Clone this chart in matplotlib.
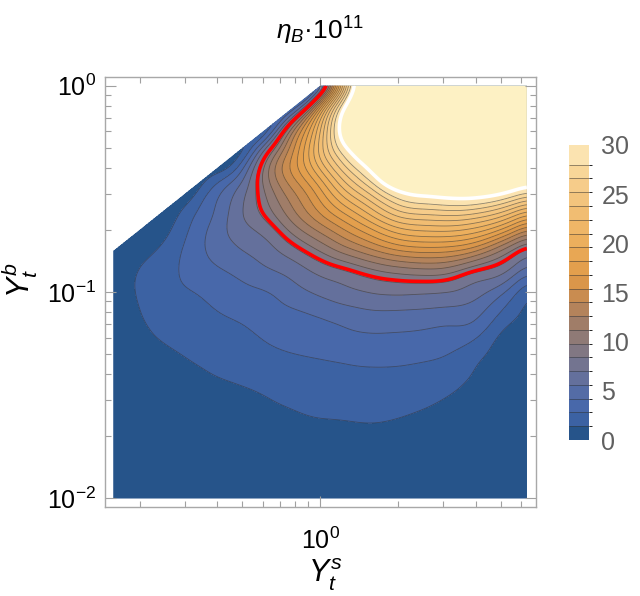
import numpy as np
import matplotlib
matplotlib.use('Agg')
import matplotlib.pyplot as plt
import matplotlib.tri as mtri
from matplotlib.colors import ListedColormap, BoundaryNorm
from matplotlib.colorbar import ColorbarBase
from matplotlib.patches import Polygon
from matplotlib.ticker import FixedLocator, FixedFormatter, NullFormatter

plt.rcParams['font.family'] = ['Liberation Sans', 'DejaVu Sans']
plt.rcParams['mathtext.fontset'] = 'custom'
plt.rcParams['mathtext.rm'] = 'Liberation Sans'
plt.rcParams['mathtext.it'] = 'Liberation Sans:italic'

# grid nodes, log10 of the couplings
log_ys = [-0.8, -0.7, -0.6, -0.5, -0.4, -0.3, -0.2, -0.1, 0.0,
          0.1, 0.2, 0.3, 0.4, 0.5, 0.6, 0.7, 0.8]
log_yb = [0.0, -0.1, -0.2, -0.3, -0.4, -0.5, -0.6, -0.7, -0.8, -0.9, -1.0,
          -1.1, -1.2, -1.3, -1.4, -1.5, -1.6, -1.7, -1.8, -1.9, -2.0]

# eta_B * 1e11, one row per Y_t^b (top to bottom)
# (nodes with Y_t^b > Y_t^s lie outside the allowed region and are set to 0)
eta_b = [
    [0, 0, 0, 0, 0, 0, 0, 0, 0, 24, 36, 36, 36, 36, 36, 36, 35],
    [0, 0, 0, 0, 0, 0, 0, 0, 16.3, 30.5, 36, 36, 36, 36, 36, 36, 35],
    [0, 0, 0, 0, 0, 0, 0, 12, 22, 32.5, 35.5, 36, 36, 36, 36, 36, 35],
    [0, 0, 0, 0, 0, 0, 7.7, 15.4, 23, 30, 34, 36, 36, 36, 36, 36, 35.5],
    [0, 0, 0, 0, 0, 4.0, 11.2, 16.2, 21.2, 26.4, 30.9, 35.7, 36, 36, 36, 36, 33.5],
    [0, 0, 0, 0, 3.5, 6.3, 10.6, 14.3, 18.1, 22.8, 26.6, 30.6, 31.9, 32.5, 32.6, 31.7, 29.2],
    [0, 0, 0, 2.2, 4.4, 7.0, 9.5, 12.7, 15.9, 19.1, 22.3, 25.5, 26.5, 26.9, 26.5, 24.8, 21.4],
    [0, 0, 1.0, 3.0, 4.9, 6.5, 7.8, 10.5, 13.0, 15.5, 18.0, 20.4, 21.2, 21.3, 20.4, 18.0, 13.7],
    [0, 0.9, 1.8, 3.4, 4.7, 5.6, 6.5, 8.0, 9.9, 11.9, 13.7, 15.3, 15.9, 15.7, 14.2, 11.1, 7.6],
    [0.7, 1.45, 2.25, 3.3, 4.0, 4.6, 5.4, 6.2, 7.4, 8.3, 9.4, 10.2, 10.6, 10.2, 8.5, 7.5, 4.5],
    [1.0, 1.5, 2.3, 2.75, 3.35, 3.85, 4.2, 5.1, 5.9, 6.6, 7.1, 7.3, 7.2, 7.0, 6.2, 4.6, 1.5],
    [1.05, 1.35, 2.0, 2.2, 2.75, 3.15, 3.6, 4.0, 4.5, 5.0, 5.4, 5.4, 5.3, 5.1, 4.7, 2.7, 1.0],
    [0.95, 1.15, 1.6, 1.8, 2.2, 2.55, 3.1, 3.3, 3.6, 4.0, 4.2, 4.15, 4.0, 3.8, 3.3, 1.3, 0.95],
    [0.8, 0.95, 1.25, 1.5, 1.75, 2.0, 2.5, 2.8, 2.95, 3.15, 3.3, 3.3, 3.1, 2.8, 1.8, 1.0, 0.88],
    [0.68, 0.8, 1.0, 1.22, 1.43, 1.58, 1.9, 2.3, 2.4, 2.5, 2.55, 2.5, 2.4, 2.0, 1.3, 0.92, 0.8],
    [0.58, 0.68, 0.82, 1.0, 1.15, 1.27, 1.45, 1.75, 1.85, 1.95, 2.0, 1.95, 1.8, 1.4, 1.0, 0.83, 0.7],
    [0.5, 0.57, 0.68, 0.82, 0.92, 1.0, 1.1, 1.3, 1.45, 1.5, 1.55, 1.45, 1.25, 1.0, 0.85, 0.74, 0.62],
    [0.42, 0.48, 0.56, 0.65, 0.72, 0.78, 0.85, 0.98, 1.05, 1.1, 1.15, 1.1, 1.0, 0.82, 0.72, 0.63, 0.54],
    [0.36, 0.4, 0.46, 0.52, 0.56, 0.6, 0.65, 0.74, 0.8, 0.8, 0.82, 0.8, 0.75, 0.64, 0.58, 0.53, 0.47],
    [0.3, 0.34, 0.38, 0.42, 0.45, 0.47, 0.5, 0.56, 0.6, 0.6, 0.6, 0.6, 0.58, 0.52, 0.48, 0.45, 0.41],
    [0.26, 0.3, 0.32, 0.34, 0.36, 0.38, 0.4, 0.44, 0.45, 0.46, 0.47, 0.47, 0.46, 0.42, 0.4, 0.38, 0.36],
]

step = 1.4
bounds = [round(step * k, 1) for k in range(21)] + [30]   # 0 ... 28, 30
eta_obs = 8.7
cbar_ticks = [0, 5, 10, 15, 20, 25, 30]

# band colours, bottom to top (Mathematica-like density gradient)
band_cols = ['#26548a', '#3c62a3', '#4868aa', '#546ca6', '#64709c', '#737490',
             '#817783', '#8f7a76', '#a07d68', '#b4835b', '#c98c50', '#da964a',
             '#e39f4d', '#e8a754', '#ecaf5d', '#efb667', '#f1bd72', '#f3c47d',
             '#f6cc8a', '#f8d698', '#fbe3b0']
top_col = '#fdf1c4'


def blur(a, sigma):
    r = int(3 * sigma)
    k = np.exp(-0.5 * (np.arange(-r, r + 1) / sigma) ** 2)
    k /= k.sum()
    a = np.apply_along_axis(lambda s: np.convolve(s, k, mode='same'), 1, a)
    return np.apply_along_axis(lambda s: np.convolve(s, k, mode='same'), 0, a)


fig = plt.figure(figsize=(6.4, 5.96), dpi=100)
ax = fig.add_axes([104.7 / 640, 1 - 506.7 / 596, 431 / 640, 429.4 / 596])

# regular triangulation of the grid, cells split parallel to Y_t^b = Y_t^s;
# triangles above that line (outside the allowed region) are masked
nr, nc = len(log_yb), len(log_ys)
uu, vv = np.meshgrid(log_ys, log_yb)
cells = []
for i in range(nr - 1):
    for j in range(nc - 1):
        k = i * nc + j
        cells.append([k + nc, k + 1, k])
        cells.append([k + nc, k + nc + 1, k + 1])
cells = np.array(cells)
tri = mtri.Triangulation(uu.ravel(), vv.ravel(), cells)
tri.set_mask(vv.ravel()[cells].mean(axis=1) > uu.ravel()[cells].mean(axis=1))
interp = mtri.CubicTriInterpolator(tri, np.array(eta_b, dtype=float).ravel(),
                                   kind='min_E')

# evaluate on a fine log grid and smooth lightly inside the allowed region
fu = np.linspace(log_ys[0], log_ys[-1], 321)
fv = np.linspace(log_yb[-1], log_yb[0], 401)
FU, FV = np.meshgrid(fu, fv)
fz = interp(FU, FV)
inside = ~np.ma.getmaskarray(fz) & (FV <= FU + 1e-9)
wsum = blur(inside.astype(float), 4)
zs = blur(np.where(inside, np.ma.filled(fz, 0.0), 0.0), 4) / np.maximum(wsum, 1e-9)
zs = np.ma.array(zs, mask=~inside)
X, Y = 10 ** FU, 10 ** FV

x_lo, x_hi = 10 ** log_ys[0], 10 ** log_ys[-1]
y_lo, y_hi = 10 ** log_yb[-1], 10 ** log_yb[0]
domain_xy = [(x_lo, y_lo), (x_hi, y_lo), (x_hi, y_hi), (y_hi, y_hi), (x_lo, x_lo)]
# lowest band colour underneath, so the edge along Y_t^b = Y_t^s stays clean
ax.add_patch(Polygon(domain_xy, closed=True, facecolor=band_cols[0],
                     edgecolor='none', zorder=0.5))

fill_levels = [-1000] + bounds[1:] + [1000]
fill_cols = band_cols + [top_col]
cs = ax.contourf(X, Y, zs, levels=fill_levels, colors=fill_cols)
cl = ax.contour(X, Y, zs, levels=bounds[1:-1], colors=[(0.2, 0.2, 0.2, 0.55)],
                linewidths=0.6)
cw = ax.contour(X, Y, zs, levels=[30], colors='white', linewidths=2.6)
cr = ax.contour(X, Y, zs, levels=[eta_obs], colors='#ff0000', linewidths=2.6)

domain = Polygon(domain_xy, closed=True, transform=ax.transData,
                 facecolor='none', edgecolor='none')
ax.add_patch(domain)
for c in (cs, cl, cw, cr):
    c.set_clip_path(domain)

ax.set_xscale('log')
ax.set_yscale('log')
ax.set_xlim(10 ** -0.834, 10 ** 0.834)
ax.set_ylim(10 ** -2.0407, 10 ** 0.0407)

ax.xaxis.set_major_locator(FixedLocator([1.0]))
ax.xaxis.set_major_formatter(FixedFormatter([r'$\mathregular{10^{0}}$']))
ax.xaxis.set_minor_locator(FixedLocator([0.2, 0.3, 0.4, 0.5, 0.6, 0.7, 0.8, 0.9,
                                         2, 3, 4, 5, 6]))
ax.xaxis.set_minor_formatter(NullFormatter())
ax.yaxis.set_major_locator(FixedLocator([0.01, 0.1, 1.0]))
ax.yaxis.set_major_formatter(FixedFormatter([r'$\mathregular{10^{-2}}$',
                                             r'$\mathregular{10^{-1}}$',
                                             r'$\mathregular{10^{0}}$']))
ax.yaxis.set_minor_locator(FixedLocator([0.02, 0.03, 0.04, 0.05, 0.06, 0.07, 0.08, 0.09,
                                         0.2, 0.3, 0.4, 0.5, 0.6, 0.7, 0.8, 0.9]))
ax.yaxis.set_minor_formatter(NullFormatter())
ax.tick_params(which='both', direction='in', top=True, right=True,
               color='#a0a0a0', width=0.8, labelsize=18)
ax.tick_params(which='major', length=8)
ax.tick_params(which='minor', length=4)
ax.tick_params(axis='x', pad=15)
ax.tick_params(axis='y', pad=6)
for s in ax.spines.values():
    s.set_color('#a8a8a8')
    s.set_linewidth(1.0)

fig.text(0.5, 1 - 31 / 596, r'$\eta_B$' + '\u00b7' + r'$\mathregular{10^{11}}$',
         ha='center', va='center', fontsize=19)
fig.text(325 / 640, 1 - 575 / 596, r'$Y_t^s$', ha='center', va='center', fontsize=22)
fig.text(20 / 640, 1 - 280 / 596, r'$Y_t^b$', ha='center', va='center', fontsize=22,
         rotation=90)

# legend bar
cax = fig.add_axes([569 / 640, 1 - 440 / 596, 20 / 640, 295 / 596])
cb = ColorbarBase(cax, cmap=ListedColormap(band_cols),
                  norm=BoundaryNorm(bounds, len(bounds) - 1),
                  boundaries=bounds, spacing='proportional',
                  ticks=cbar_ticks, drawedges=True)
cb.outline.set_visible(False)
cb.dividers.set_color((0.2, 0.2, 0.2, 0.6))
cb.dividers.set_linewidth(0.6)
cb.set_ticklabels([str(t) for t in cbar_ticks])
cax.tick_params(length=0, labelsize=18, labelcolor='#606060', pad=9)

fig.savefig('out.png', dpi=100)
